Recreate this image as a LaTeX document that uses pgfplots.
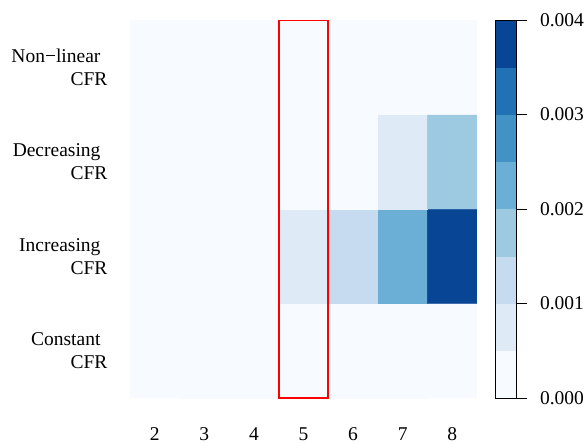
\documentclass[border=0pt]{standalone}
\usepackage{fontspec}
\setmainfont{Liberation Serif}
\usepackage{pgfplots}
\pgfplotsset{compat=1.18}
\usepackage{pgfplotstable}

\pgfplotstableread{
x y c
2 1 0
3 1 0
4 1 0
5 1 0
6 1 0
7 1 0
8 1 0
2 2 0
3 2 0
4 2 0
5 2 0.0007
6 2 0.0012
7 2 0.0022
8 2 0.0038
2 3 0
3 3 0
4 3 0
5 3 0
6 3 0
7 3 0.0007
8 3 0.0017
2 4 0
3 4 0
4 4 0
5 4 0
6 4 0
7 4 0
8 4 0
}\cfrdata

\begin{document}
\begin{tikzpicture}
\useasboundingbox (-130bp,-46bp) rectangle (457bp,398bp);
\begin{axis}[
  at={(0,0)}, anchor=south west,
  scale only axis,
  width=347bp, height=378bp,
  xmin=1.5, xmax=8.5, ymin=0.5, ymax=4.5,
  enlargelimits=false,
  font=\fontsize{19.5bp}{23bp}\selectfont,
  /pgf/number format/assume math mode=true,
  axis line style={draw=none},
  major tick length=0pt,
  tick style={draw=none},
  xtick={2,3,4,5,6,7,8},
  ytick={1,2,3,4},
  yticklabels={{Constant\kern0.36em\\CFR},{Increasing\kern0.36em\\CFR},{Decreasing\kern0.36em\\CFR},{Non−linear\kern0.36em\\CFR}},
  yticklabel style={align=right, anchor=east, xshift=-19bp},
  xticklabel shift=26bp,
  colormap={blues8}{rgb255=(247,251,255) rgb255=(222,235,247) rgb255=(198,219,239) rgb255=(158,202,225) rgb255=(107,174,214) rgb255=(66,146,198) rgb255=(33,113,181) rgb255=(8,69,148)},
  colormap access=piecewise constant,
  point meta min=0, point meta max=0.004,
  colorbar,
  colorbar style={
    scale only axis,
    width=21bp,
    at={(parent axis.north east)}, anchor=north west, xshift=10bp,
    ytick={0,0.001,0.002,0.003,0.004},
    scaled y ticks=false,
    yticklabel style={/pgf/number format/.cd, fixed, fixed zerofill, precision=3, assume math mode=true, /tikz/.cd, xshift=9bp},
    font=\fontsize{19.5bp}{23bp}\selectfont,
    tick align=outside,
    major tick length=11bp,
    ytick pos=right,
    axis line style={black, line width=0.9pt},
    tick style={black, line width=0.9pt},
  },
]
\addplot[matrix plot*, mesh/cols=7, point meta=explicit] table[x=x, y=y, meta=c] {\cfrdata};
\draw[red, line width=1.6pt] (axis cs:4.5,0.5) rectangle (axis cs:5.5,4.5);
\end{axis}
\end{tikzpicture}
\end{document}
